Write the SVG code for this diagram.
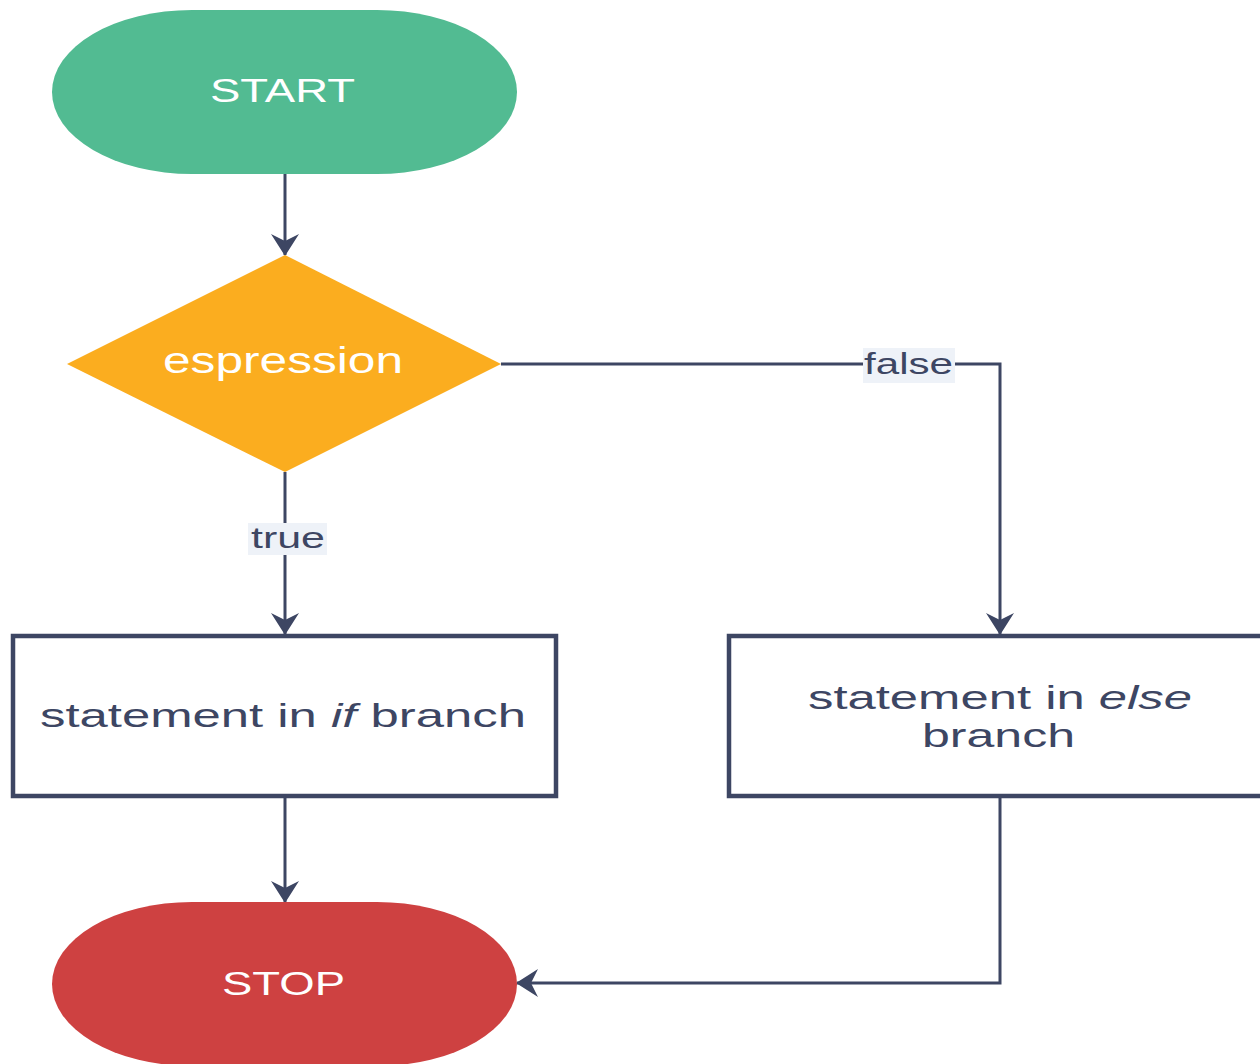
<svg xmlns="http://www.w3.org/2000/svg" width="1260" height="1064" viewBox="0 0 1260 1064">
  <style>
    .lbl { font-family: "Liberation Sans", Arial, sans-serif; }
    .white { fill: #ffffff; }
    .dark { fill: #3d4663; }
    .edge { fill: none; stroke: #3d4663; stroke-width: 3; }
    .box { fill: #ffffff; stroke: #3d4663; stroke-width: 4.5; }
    .tag { fill: #eef2f8; }
  </style>
  <defs>
    <marker id="arrow" markerUnits="userSpaceOnUse" viewBox="0 0 22 28" markerWidth="22" markerHeight="28" refX="21" refY="14" orient="auto">
      <path d="M0,0 L22,14 L0,28 L7,14 Z" fill="#3d4663"/>
    </marker>
  </defs>
  <rect width="1260" height="1064" fill="#ffffff"/>

  <!-- connectors -->
  <g id="connectors">
    <line class="edge" x1="285" y1="174" x2="285" y2="255" marker-end="url(#arrow)"/>
    <polyline class="edge" points="501,364 1000,364 1000,634" marker-end="url(#arrow)"/>
    <line class="edge" x1="285" y1="472" x2="285" y2="634" marker-end="url(#arrow)"/>
    <line class="edge" x1="285" y1="797" x2="285" y2="902" marker-end="url(#arrow)"/>
    <polyline class="edge" points="1000,797 1000,983 517,983" marker-end="url(#arrow)"/>
    <g id="label-false">
      <rect class="tag" x="863" y="348" width="92" height="35"/>
      <text class="lbl dark" x="864" y="374" font-size="29" textLength="89" lengthAdjust="spacingAndGlyphs">false</text>
    </g>
    <g id="label-true">
      <rect class="tag" x="248" y="523" width="79" height="32"/>
      <text class="lbl dark" x="251" y="548" font-size="29" textLength="74" lengthAdjust="spacingAndGlyphs">true</text>
    </g>
  </g>

  <!-- start terminal -->
  <g id="start">
    <rect x="52" y="10" width="465" height="164" rx="140" ry="82" fill="#52bb92"/>
    <text class="lbl white" x="210" y="102" font-size="33" textLength="145" lengthAdjust="spacingAndGlyphs">START</text>
  </g>

  <!-- decision -->
  <g id="decision">
    <polygon points="285,255 501,364 285,472 67,364" fill="#fbad1f"/>
    <text class="lbl white" x="163" y="373" font-size="36" textLength="240" lengthAdjust="spacingAndGlyphs">espression</text>
  </g>

  <!-- if branch -->
  <g id="if-branch">
    <rect class="box" x="13" y="636" width="543" height="160"/>
    <text class="lbl dark" x="40" y="727" font-size="33" textLength="486" lengthAdjust="spacingAndGlyphs">statement in <tspan font-style="italic">if</tspan> branch</text>
  </g>

  <!-- else branch -->
  <g id="else-branch">
    <rect class="box" x="729" y="636" width="542" height="160"/>
    <text class="lbl dark" x="808" y="709" font-size="33" textLength="384" lengthAdjust="spacingAndGlyphs">statement in <tspan font-style="italic">else</tspan></text>
    <text class="lbl dark" x="922" y="747" font-size="33" textLength="153" lengthAdjust="spacingAndGlyphs">branch</text>
  </g>

  <!-- stop terminal -->
  <g id="stop">
    <rect x="52" y="902" width="465" height="164" rx="140" ry="82" fill="#ce4141"/>
    <text class="lbl white" x="222" y="995" font-size="33" textLength="123" lengthAdjust="spacingAndGlyphs">STOP</text>
  </g>
</svg>
